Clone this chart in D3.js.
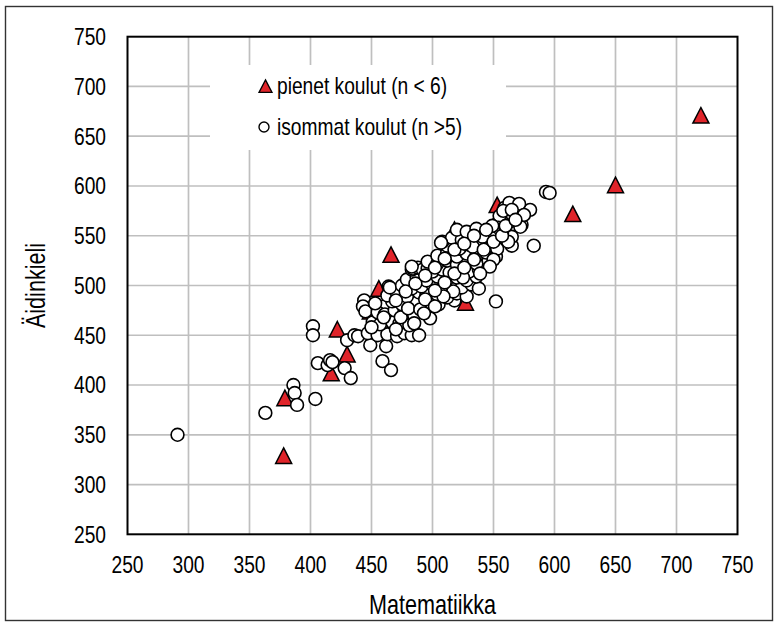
<!DOCTYPE html>
<html>
<head>
<meta charset="utf-8">
<script src="https://cdn.jsdelivr.net/npm/d3@7"></script>
<style>
  body { margin: 0; background: #fff; }
  svg { display: block; }
  text { font-family: "Liberation Sans", Arial, sans-serif; fill: #000; }
</style>
</head>
<body>
<svg id="chart" width="777" height="624"></svg>
<script>
// pienet koulut (n < 6): [matematiikka, äidinkieli]
const smallSchools = [
  [720, 670], [650, 600], [615, 571], [553, 580], [518, 555], [466, 530],
  [456, 496], [422, 455], [430, 430], [417, 411], [379, 386], [378, 328],
  [527, 482], [535, 505], [449, 473]
];

// isommat koulut (n > 5)
const largeSchools = [
  [291, 350], [363, 372], [386, 400], [387, 392], [389, 380], [404, 386],
  [402, 459], [402, 450], [406, 422], [414, 420], [416, 425], [418, 423],
  [428, 417], [433, 407], [430, 445], [436, 450], [439, 449], [449, 440],
  [462, 439], [459, 424], [466, 415], [444, 485], [443, 479], [454, 464],
  [456, 455], [465, 462], [460, 479], [464, 499],
  [447, 452], [455, 450], [463, 451], [471, 449], [477, 452], [483, 450], [489, 450],
  [451, 463], [457, 461], [467, 463], [473, 462], [481, 460],
  [445, 474], [455, 473], [461, 471], [469, 475], [477, 473], [485, 470], [498, 467],
  [453, 482], [467, 484], [475, 481], [487, 483], [498, 482], [505, 481], [518, 485],
  [463, 490], [471, 492], [479, 489], [489, 493], [495, 490], [504, 491], [512, 488], [520, 492], [528, 489],
  [465, 498], [475, 500], [483, 497], [491, 499], [500, 501], [508, 497], [516, 500], [524, 498], [532, 501], [538, 497],
  [479, 506], [487, 508], [495, 505], [504, 509], [512, 506], [520, 508], [528, 505], [536, 509],
  [483, 516], [491, 517], [500, 514], [508, 516], [514, 513], [522, 517], [530, 514], [538, 516],
  [484, 517], [488, 518], [492, 516], [496, 517],
  [496, 524], [504, 522], [512, 525], [520, 521], [528, 524], [536, 522], [546, 525],
  [504, 530], [512, 533], [520, 529], [528, 532], [536, 530], [544, 533], [552, 529],
  [512, 540], [522, 537], [530, 541], [536, 538], [546, 540], [553, 537], [565, 540],
  [508, 544], [516, 548], [524, 546], [532, 549], [540, 545], [548, 548], [561, 546], [565, 549],
  [520, 556], [528, 554], [536, 557], [548, 555], [557, 553],
  [553, 562], [563, 564], [573, 561], [555, 570], [565, 572], [573, 570],
  [559, 578], [569, 580], [580, 576], [563, 583], [571, 582],
  [593, 594], [596, 593], [583, 540], [552, 484], [562, 544], [572, 559],
  [554, 558], [550, 526], [541, 549], [533, 539], [507, 543], [483, 519],
  [525, 508], [517, 494], [509, 489], [547, 519], [539, 512], [549, 560],
  [558, 575], [565, 576], [575, 571],
  [450, 458], [460, 468], [470, 456], [474, 468], [480, 477], [490, 476],
  [494, 486], [502, 495], [510, 503], [518, 512], [526, 518], [534, 526],
  [542, 536], [550, 544], [557, 550], [560, 560], [568, 566], [470, 485],
  [478, 494], [486, 502], [494, 510], [502, 518], [510, 527], [518, 536],
  [526, 542], [534, 550], [544, 556], [485, 462], [493, 472], [502, 479]
];

const ticks = [250, 300, 350, 400, 450, 500, 550, 600, 650, 700, 750];
const xTitle = "Matematiikka";
const yTitle = "Äidinkieli";
const legendLabels = ["pienet koulut (n < 6)", "isommat koulut (n >5)"];

const svg = d3.select("#chart");
const width = +svg.attr("width");
const height = +svg.attr("height");

const plot = { left: 127.5, right: 737.5, top: 36.7, bottom: 534.3 };
const red = "#e0242a";
const squeeze = 0.8; // kapea fontti

const x = d3.scaleLinear().domain([250, 750]).range([plot.left, plot.right]);
const y = d3.scaleLinear().domain([250, 750]).range([plot.bottom, plot.top]);

svg.append("rect").attr("width", width).attr("height", height).attr("fill", "#fff");

// ulkokehys
svg.append("rect")
  .attr("x", 5.5).attr("y", 6.5)
  .attr("width", 767).attr("height", 614)
  .attr("fill", "none").attr("stroke", "#333").attr("stroke-width", 1.4);

function label(g, px, py, str, size, anchor, rot = 0) {
  return g.append("text")
    .attr("transform", `translate(${px},${py}) rotate(${rot}) scale(${squeeze},1)`)
    .attr("text-anchor", anchor)
    .attr("dominant-baseline", "central")
    .style("font-size", size + "px")
    .text(str);
}

// ruudukko
const grid = svg.append("g").attr("stroke", "#bfbfbf").attr("stroke-width", 1.7);
grid.selectAll(".vx").data(ticks.slice(1, -1)).join("line")
  .attr("x1", d => x(d)).attr("x2", d => x(d))
  .attr("y1", plot.top).attr("y2", plot.bottom);
grid.selectAll(".hy").data(ticks.slice(1, -1)).join("line")
  .attr("y1", d => y(d)).attr("y2", d => y(d))
  .attr("x1", plot.left).attr("x2", plot.right);

// selite (valkoinen tausta peittää ruudukon)
svg.append("rect")
  .attr("x", 210).attr("y", 65).attr("width", 296).attr("height", 85)
  .attr("fill", "#fff");

// kehys
svg.append("rect")
  .attr("x", plot.left).attr("y", plot.top)
  .attr("width", plot.right - plot.left).attr("height", plot.bottom - plot.top)
  .attr("fill", "none").attr("stroke", "#000").attr("stroke-width", 2);

// akselien numerot
const axisG = svg.append("g");
ticks.forEach(t => {
  label(axisG, x(t), 565, t, 24, "middle");
  label(axisG, 106, y(t), t, 24, "end");
});
label(axisG, (plot.left + plot.right) / 2, 605, xTitle, 27, "middle");
label(axisG, 36, (plot.top + plot.bottom) / 2, yTitle, 27, "middle", -90);

const tri = s => `M0,${-s * 0.55}L${s / 2},${s * 0.42}L${-s / 2},${s * 0.42}Z`;

// pisteet
svg.append("g").selectAll("path").data(smallSchools).join("path")
  .attr("d", tri(16))
  .attr("transform", d => `translate(${x(d[0])},${y(d[1])})`)
  .attr("fill", red).attr("stroke", "#000").attr("stroke-width", 1.5);

svg.append("g").selectAll("circle").data(largeSchools).join("circle")
  .attr("cx", d => x(d[0])).attr("cy", d => y(d[1]))
  .attr("r", 6.4)
  .attr("fill", "#fff").attr("stroke", "#000").attr("stroke-width", 1.6);

// selitteen merkit
const leg = svg.append("g");
leg.append("path").attr("d", tri(13))
  .attr("transform", "translate(265.5,87)")
  .attr("fill", red).attr("stroke", "#000").attr("stroke-width", 1.3);
leg.append("circle").attr("cx", 264).attr("cy", 127).attr("r", 5)
  .attr("fill", "#fff").attr("stroke", "#000").attr("stroke-width", 1.4);
label(leg, 277, 86, legendLabels[0], 24, "start");
label(leg, 277, 127, legendLabels[1], 24, "start");
</script>
</body>
</html>
